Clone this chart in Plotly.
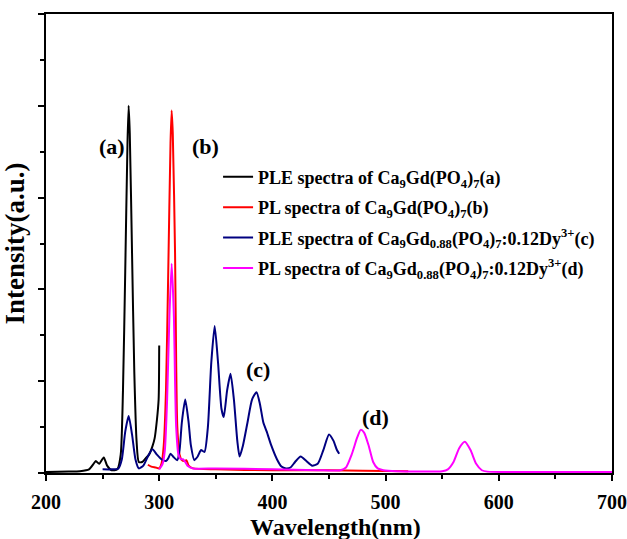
import plotly.graph_objects as go

# (a) PLE spectra of Ca9Gd(PO4)7
wl_a = [200, 220, 230, 238, 242, 244, 247, 251, 254, 258, 263, 266, 268, 270, 272, 273, 274, 276, 278, 280, 282, 285, 288, 291, 294, 296, 298, 299.5, 300]
int_a = [0.01, 0.015, 0.02, 0.04, 0.1, 0.13, 0.1, 0.17, 0.08, 0.03, 0.04, 0.2, 0.9, 2.2, 3.6, 4.0, 3.7, 2.4, 1.1, 0.35, 0.12, 0.12, 0.16, 0.2, 0.29, 0.38, 0.58, 0.8, 1.39]

# (b) PL spectra of Ca9Gd(PO4)7
wl_b = [290, 293, 297, 300, 302, 304, 306, 308, 310, 311, 312, 314, 315, 316, 318, 320, 322, 324, 326, 330, 350, 400, 450, 480, 520]
int_b = [0.09, 0.07, 0.06, 0.05, 0.1, 0.3, 0.9, 2.2, 3.6, 3.95, 3.7, 2.4, 1.2, 0.5, 0.2, 0.14, 0.13, 0.14, 0.08, 0.05, 0.04, 0.03, 0.03, 0.025, 0.02]

# (c) PLE spectra of Ca9Gd0.88(PO4)7:0.12Dy3+
wl_c = [250, 258, 264, 267, 270, 273, 276, 279, 282, 286, 290, 294, 298, 302, 306, 308, 310, 313, 316, 318, 320, 323, 326, 328, 331, 334, 337, 340, 343, 346, 349, 352, 355, 357, 360, 363, 366, 369, 371, 374, 378, 382, 386, 389, 392, 395, 399, 404, 408, 412, 416, 420, 425, 430, 435, 440, 445, 450, 454, 457, 459]
int_c = [0.04, 0.04, 0.05, 0.15, 0.45, 0.62, 0.42, 0.15, 0.05, 0.08, 0.18, 0.26, 0.2, 0.15, 0.13, 0.16, 0.21, 0.17, 0.14, 0.25, 0.55, 0.8, 0.55, 0.3, 0.14, 0.18, 0.25, 0.23, 0.5, 1.2, 1.6, 1.2, 0.7, 0.61, 0.9, 1.08, 0.8, 0.35, 0.18, 0.3, 0.55, 0.8, 0.88, 0.75, 0.55, 0.45, 0.3, 0.15, 0.07, 0.05, 0.06, 0.12, 0.18, 0.13, 0.08, 0.1, 0.25, 0.42, 0.35, 0.25, 0.21]

# (d) PL spectra of Ca9Gd0.88(PO4)7:0.12Dy3+
wl_d = [300, 303, 305, 307, 309, 311, 313, 314, 315, 317, 319, 321, 323, 325, 330, 350, 400, 440, 460, 465, 470, 475, 478, 481, 485, 489, 493, 498, 510, 550, 555, 560, 565, 570, 575, 580, 585, 590, 650, 700]
int_d = [0.04, 0.1, 0.25, 0.8, 1.7, 2.28, 1.7, 1.0, 0.5, 0.2, 0.15, 0.15, 0.12, 0.08, 0.05, 0.05, 0.04, 0.03, 0.03, 0.06, 0.2, 0.39, 0.47, 0.44, 0.3, 0.12, 0.05, 0.03, 0.02, 0.02, 0.04, 0.12, 0.27, 0.34, 0.25, 0.1, 0.03, 0.015, 0.01, 0.01]

names = [
    "PLE spectra of Ca<sub>9</sub>Gd(PO<sub>4</sub>)<sub>7</sub>(a)",
    "PL spectra of Ca<sub>9</sub>Gd(PO<sub>4</sub>)<sub>7</sub>(b)",
    "PLE spectra of Ca<sub>9</sub>Gd<sub>0.88</sub>(PO<sub>4</sub>)<sub>7</sub>:0.12Dy<sup>3+</sup>(c)",
    "PL spectra of Ca<sub>9</sub>Gd<sub>0.88</sub>(PO<sub>4</sub>)<sub>7</sub>:0.12Dy<sup>3+</sup>(d)",
]
colors = ["#000000", "#ff0000", "#000080", "#ff00ff"]
labels = ["(a)", "(b)", "(c)", "(d)"]
label_x = [258, 341, 387, 491]
label_y = [3.56, 3.56, 1.13, 0.6]
x_title = "Wavelength(nm)"
y_title = "Intensity(a.u.)"

FONT = "Liberation Serif"

fig = go.Figure()
for i, (wl, it, nm, col) in enumerate(zip([wl_a, wl_b, wl_c, wl_d], [int_a, int_b, int_c, int_d], names, colors)):
    fig.add_trace(go.Scatter(x=wl, y=it, mode="lines", name=nm, legendgroup=f"g{i}",
                             line=dict(color=col, width=2, shape="spline", smoothing=0.6)))

for lab, lx, ly in zip(labels, label_x, label_y):
    fig.add_annotation(x=lx, y=ly, text=lab, showarrow=False,
                       font=dict(family=FONT, size=22, color="black", weight="bold"))

fig.add_annotation(x=0.512, y=-0.1176, xref="paper", yref="paper", text=x_title,
                   showarrow=False, xanchor="center", yanchor="middle",
                   font=dict(family=FONT, size=24, color="black", weight="bold"))

fig.update_layout(
    width=627, height=539,
    margin=dict(l=46, r=15, t=14, b=66),
    paper_bgcolor="white", plot_bgcolor="white",
    font=dict(family=FONT, color="black", weight="bold"),
    showlegend=True,
    legend=dict(x=0.304, y=0.685, xanchor="left", yanchor="top",
                font=dict(family=FONT, size=18, color="black", weight="bold"),
                bgcolor="rgba(0,0,0,0)", tracegroupgap=4),
    xaxis=dict(range=[200, 700], dtick=100, tick0=200, automargin=False,
               showline=True, linecolor="black", linewidth=2, mirror=True,
               ticks="outside", ticklen=6, tickwidth=2, tickcolor="black",
               ticklabelstandoff=4,
               minor=dict(dtick=50, ticks="outside", ticklen=4, tickwidth=1.5, tickcolor="black"),
               showgrid=False, zeroline=False,
               tickfont=dict(family=FONT, size=20, weight="bold")),
    yaxis=dict(range=[0, 5], dtick=1, tick0=0, automargin=False,
               showline=True, linecolor="black", linewidth=2, mirror=True,
               ticks="outside", ticklen=6, tickwidth=2, tickcolor="black",
               minor=dict(dtick=0.5, ticks="outside", ticklen=4, tickwidth=1.5, tickcolor="black"),
               showgrid=False, zeroline=False, showticklabels=False,
               title=dict(text=y_title, standoff=10,
                          font=dict(family=FONT, size=27, weight="bold"))),
)

fig.write_html("out.html")
